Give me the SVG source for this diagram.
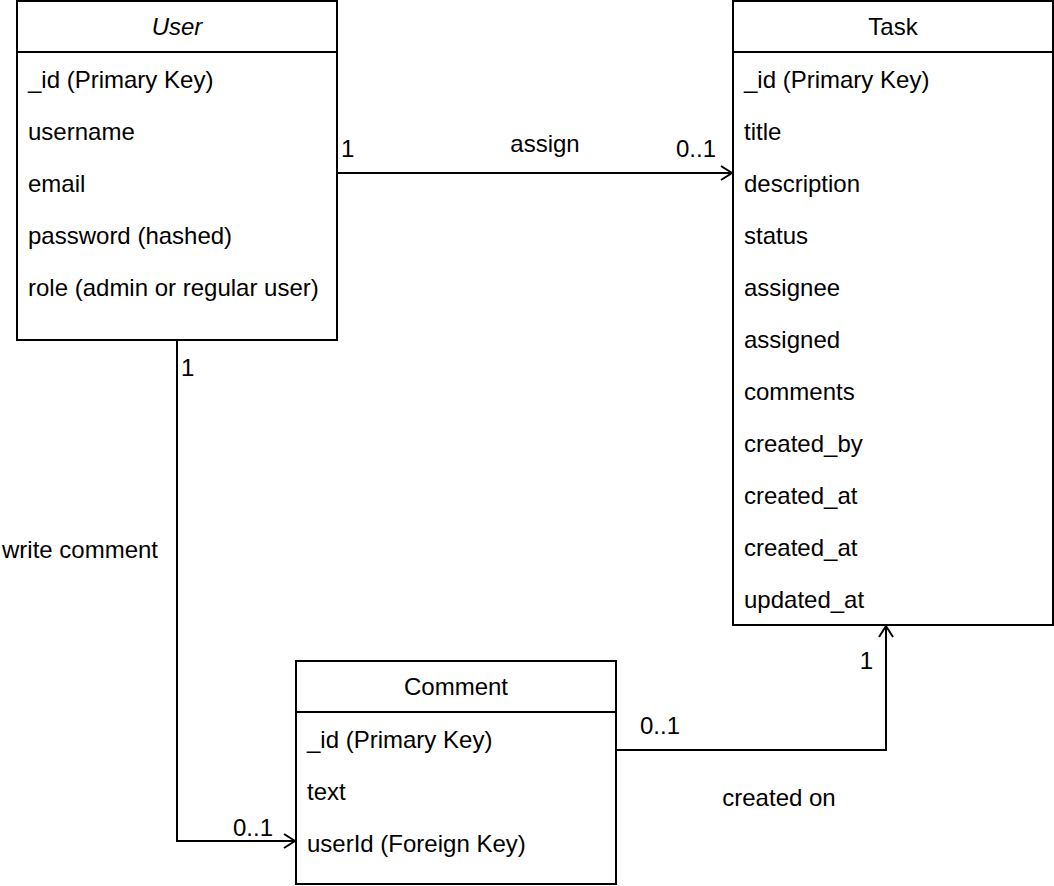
<svg xmlns="http://www.w3.org/2000/svg" width="1054" height="886" viewBox="0 0 1054 886">
<style>
.box{fill:#fff;stroke:#000;stroke-width:2}
.sep{stroke:#000;stroke-width:2}
text{font-family:"Liberation Sans",Arial,Helvetica,sans-serif;font-size:24px;fill:#000}
.c{text-anchor:middle}
.it{font-style:italic}
.conn{fill:none;stroke:#000;stroke-width:2}
</style>
<defs>
<marker id="open" markerWidth="14" markerHeight="18" refX="12" refY="9" orient="auto" markerUnits="userSpaceOnUse">
<path d="M1,2 L12,9 L1,16" fill="none" stroke="#000" stroke-width="2"/>
</marker>
</defs>
<g id="connectors">
<path class="conn" d="M337,173 L732,173" marker-end="url(#open)"/>
<path class="conn" d="M177,340 L177,841 L295,841" marker-end="url(#open)"/>
<path class="conn" d="M616,750 L886,750 L886,626" marker-end="url(#open)"/>
<text x="341" y="157">1</text>
<text x="545" y="152" class="c">assign</text>
<text x="716" y="157" text-anchor="end">0..1</text>
<text x="181" y="376">1</text>
<text x="2" y="558">write comment</text>
<text x="273" y="836" text-anchor="end">0..1</text>
<text x="640" y="734">0..1</text>
<text x="873" y="669" text-anchor="end">1</text>
<text x="779" y="806" class="c">created on</text>
</g>
<g id="user">
<rect class="box" x="17" y="1" width="320" height="339"/>
<line class="sep" x1="17" y1="52" x2="337" y2="52"/>
<text x="177" y="35" class="c it">User</text>
<text x="28" y="88">_id (Primary Key)</text>
<text x="28" y="140">username</text>
<text x="28" y="192">email</text>
<text x="28" y="244">password (hashed)</text>
<text x="28" y="296">role (admin or regular user)</text>
</g>
<g id="task">
<rect class="box" x="733" y="1" width="320" height="624"/>
<line class="sep" x1="733" y1="52" x2="1053" y2="52"/>
<text x="893" y="35" class="c">Task</text>
<text x="744" y="88">_id (Primary Key)</text>
<text x="744" y="140">title</text>
<text x="744" y="192">description</text>
<text x="744" y="244">status</text>
<text x="744" y="296">assignee</text>
<text x="744" y="348">assigned</text>
<text x="744" y="400">comments</text>
<text x="744" y="452">created_by</text>
<text x="744" y="504">created_at</text>
<text x="744" y="556">created_at</text>
<text x="744" y="608">updated_at</text>
</g>
<g id="comment">
<rect class="box" x="296" y="661" width="320" height="223"/>
<line class="sep" x1="296" y1="712" x2="616" y2="712"/>
<text x="456" y="695" class="c">Comment</text>
<text x="307" y="748">_id (Primary Key)</text>
<text x="307" y="800">text</text>
<text x="307" y="852">userId (Foreign Key)</text>
</g>
</svg>
